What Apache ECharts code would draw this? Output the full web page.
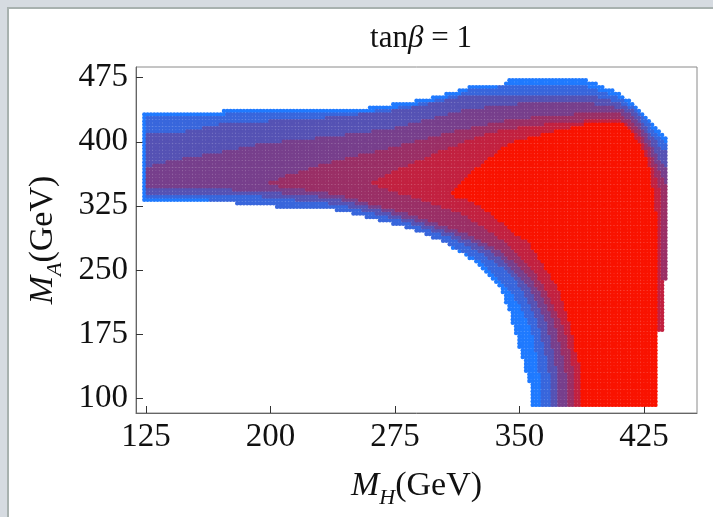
<!DOCTYPE html>
<html>
<head>
<meta charset="utf-8">
<script src="https://cdn.jsdelivr.net/npm/echarts@6/dist/echarts.min.js"></script>
<style>
  html, body { margin: 0; padding: 0; background: #d6dbe1; }
  #panel { position: absolute; left: 7px; top: 7px; width: 706px; height: 510px; background: #ffffff;
           border-left: 2px solid #a8b1af; border-top: 2px solid #a8b1af; box-sizing: border-box; }
  #chart { position: absolute; left: 0; top: 0; width: 713px; height: 517px; }
</style>
</head>
<body>
<div id="panel"></div>
<div id="chart"></div>
<script>
// Allowed region in the (M_H, M_A) plane, split into nested contour levels.
// Each contour is a closed outline of [M_H, M_A] vertices (GeV); level 0 is the
// full allowed region, level 6 the innermost (best) region.
const contour0 = [[123.5,331],[123.5,434],[171,434],[173,438.5],[256,439],[270,443],[285,447],[297,452],[308,457],[316,462],[322,467],[341,468],[344,473],[390,473],[398,467],[405,461],[411,456],[417,448],[422,440],[426,431],[431,421],[435,412],[439.5,403],[439.5,237],[436.5,237],[436.5,177],[433.5,177],[433.5,91],[357,91],[356.6,113],[354,130],[351.6,149],[349,165],[346.6,184],[343,207],[338.5,227],[333,240],[326.5,254],[318,266],[306,281],[290,297],[278,305],[268,311],[256,317],[241,323],[220,325],[186,329],[185,331]];
const contour1 = [[125,335],[125,429],[172,430],[175,434],[256,434],[270,438],[285,442],[297,447],[308,452],[316,457],[322,462],[344,465],[370,466],[390,465],[398,460],[405,455],[411,450],[416,444],[420,439],[424,432],[428,421],[431,413],[434,406],[439.5,397],[439.5,237],[436.5,237],[436.5,177],[433.5,177],[433.5,91],[363,91],[362,130],[359,168],[355,190],[349,212],[342,232],[335,246],[325,262],[312,276],[298,288],[284,298],[270,306],[256,313],[240,320],[220,322],[186,326],[160,333]];
const contour2 = [[125,340],[125,411],[150,412],[160,416],[172,421],[227,427],[253,432],[278,437],[300,446],[316,453],[340,456],[370,455],[395,453],[405,448],[412,443],[420,434],[428,412],[434,395],[439.5,386],[439.5,237],[436.5,237],[436.5,177],[433.5,177],[433.5,91],[368.5,91],[368,130],[364,168],[360,195],[354,220],[347,240],[338,256],[326,272],[312,285],[298,296],[284,305],[270,313],[256,320],[241,327],[220,331],[190,337],[150,340]];
const contour3 = [[125,347],[125,369],[135,375],[140,378],[153,382],[172,388],[196,398],[227,404],[253,410],[278,417],[300,428],[316,436],[340,443],[370,446],[395,444],[410,439],[420,428],[428,403],[434,380],[439.5,368],[439.5,237],[436.5,237],[436.5,177],[433.5,177],[433.5,91],[373.7,91],[373,130],[369,168],[365,195],[359,220],[352,240],[343,258],[330,275],[316,288],[300,300],[285,309],[270,318],[256,326],[241,333],[220,338],[190,343],[150,346]];
const contour4 = [[199,349],[199,352],[210,360],[229,372],[256,385],[284,398],[311,412],[338,423],[370,431],[395,433],[410,433],[420,420],[428,393],[434,365],[439.5,345],[439.5,237],[436.5,237],[436.5,177],[433.5,177],[433.5,91],[378.7,91],[378,130],[374,168],[370,195],[364,220],[357,240],[348,258],[336,276],[322,290],[305,302],[290,312],[275,320],[260,328],[245,336],[229,342],[215,346]];
const contour5 = [[262,350],[262,353],[278,368],[298,385],[320,402],[340,414],[370,421],[395,425],[410,427],[420,412],[428,382],[433,350],[435,340],[435,237],[437,237],[437,177],[433.5,177],[433.5,91],[383.7,91],[383,130],[379,168],[375,190],[369,215],[362,240],[352,262],[343,280],[330,298],[315,316],[298,328],[278,340]];
const contour6 = [[310,337],[310,341],[316,355],[330,378],[344,398],[366,410],[390,420],[412,423],[417,413],[420,404],[423,394],[428,371],[431,336],[433,300],[433,91],[387.8,91],[387.8,128],[384,155],[381,184],[374,226],[366,252],[355,283],[347,293],[335,312],[322,330]];

const contours = [contour0, contour1, contour2, contour3, contour4, contour5, contour6];
const levelColors = ['#1f7aff', '#3866dc', '#5552b4', '#773f8c', '#9a2f66', '#c22140', '#f91300'];

// Scan lattice of the parameter scan (GeV)
const mhScan = [124, 438, 2];
const maScan = [92, 472, 4];

// Axis ticks
const mhTicks = [125, 200, 275, 350, 425];
const maTicks = [100, 175, 250, 325, 400, 475];

function inside(poly, x, y) {
  let c = false;
  for (let i = 0, j = poly.length - 1; i < poly.length; j = i++) {
    const xi = poly[i][0], yi = poly[i][1], xj = poly[j][0], yj = poly[j][1];
    if (((yi > y) !== (yj > y)) && (x < (xj - xi) * (y - yi) / (yj - yi) + xi)) c = !c;
  }
  return c;
}

// Assign every scan point to the innermost contour that contains it.
const levelPoints = contours.map(() => []);
for (let mh = mhScan[0]; mh <= mhScan[1]; mh += mhScan[2]) {
  for (let ma = maScan[0]; ma <= maScan[1]; ma += maScan[2]) {
    let lvl = -1;
    for (let k = 0; k < contours.length; k++) {
      if (inside(contours[k], mh, ma)) lvl = k;
    }
    if (lvl >= 0) levelPoints[lvl].push([mh, ma]);
  }
}

const serif = 'Liberation Serif, Times New Roman, serif';
const ink = '#111111';

function axisNameRich() {
  return {
    i: { fontFamily: serif, fontStyle: 'italic', fontSize: 34, lineHeight: 46, color: ink },
    s: { fontFamily: serif, fontStyle: 'italic', fontSize: 22, lineHeight: 23, verticalAlign: 'bottom', color: ink },
    n: { fontFamily: serif, fontSize: 34, lineHeight: 46, color: ink }
  };
}

const chart = echarts.init(document.getElementById('chart'), null, { renderer: 'canvas' });
chart.setOption({
  animation: false,
  backgroundColor: 'transparent',
  title: {
    text: '{n|tan}{i|β}{n| = 1}',
    left: 416,
    top: 18,
    textAlign: 'center',
    textStyle: {
      fontWeight: 'normal',
      rich: {
        n: { fontFamily: serif, fontSize: 31, fontWeight: 'normal', color: ink },
        i: { fontFamily: serif, fontStyle: 'italic', fontSize: 31, fontWeight: 'normal', color: ink }
      }
    }
  },
  grid: {
    left: 136, right: 16, top: 67, bottom: 104,
    show: true, borderColor: '#8a8a8a', borderWidth: 1,
    outerBoundsMode: 'none'
  },
  xAxis: {
    type: 'value', min: 119, max: 457,
    name: '{i|M}{s|H}{n|(GeV)}',
    nameLocation: 'middle', nameGap: 50,
    nameTextStyle: { rich: axisNameRich() },
    axisLine: { show: true, lineStyle: { color: '#666666', width: 1 } },
    axisTick: { show: true, inside: true, length: 7, customValues: mhTicks, lineStyle: { color: '#333333' } },
    axisLabel: { customValues: mhTicks, margin: 8, fontFamily: serif, fontSize: 33, color: ink },
    splitLine: { show: false }
  },
  yAxis: {
    type: 'value', min: 82.5, max: 487.5,
    name: '{i|M}{s|A}{n|(GeV)}',
    nameLocation: 'middle', nameGap: 70, nameRotate: 90,
    nameTextStyle: { rich: axisNameRich() },
    axisLine: { show: true, lineStyle: { color: '#666666', width: 1 } },
    axisTick: { show: true, inside: true, length: 7, customValues: maTicks, lineStyle: { color: '#333333' } },
    axisLabel: { customValues: maTicks, margin: 8, fontFamily: serif, fontSize: 33, color: ink },
    splitLine: { show: false }
  },
  series: levelPoints.map((pts, k) => ({
    type: 'scatter',
    name: 'level ' + k,
    data: pts,
    symbol: 'circle',
    symbolSize: 4.4,
    silent: true,
    z: 2 + k,
    itemStyle: { color: levelColors[k], opacity: 1 }
  }))
});
</script>
</body>
</html>
